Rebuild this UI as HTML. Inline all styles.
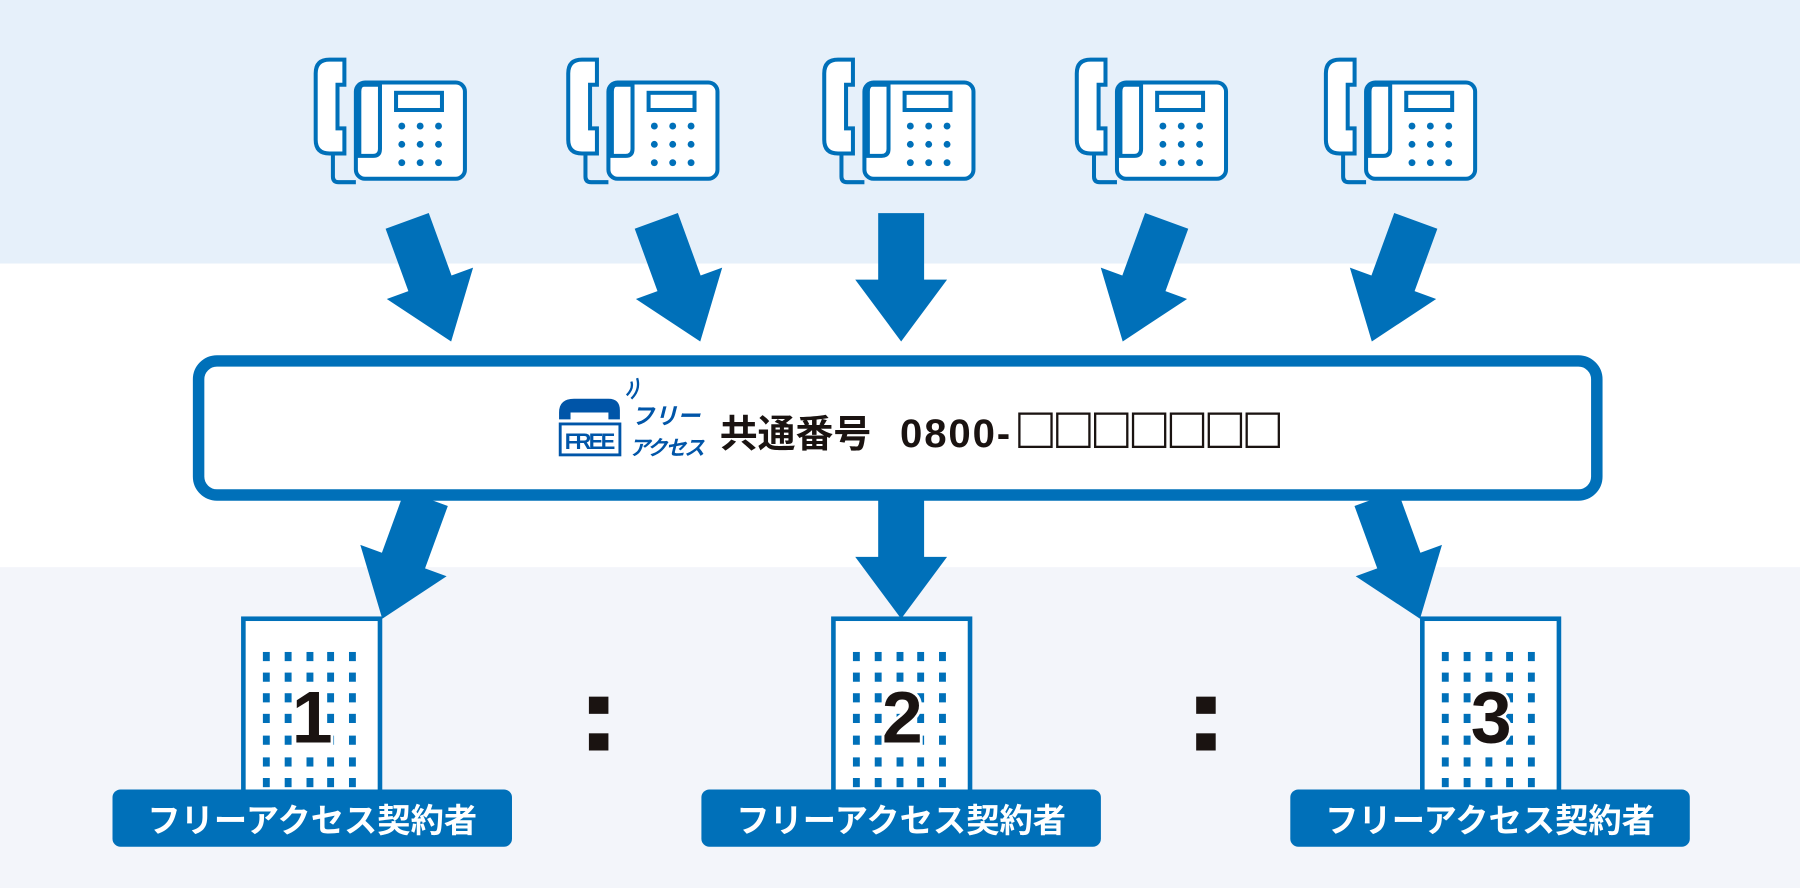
<!DOCTYPE html>
<html><head><meta charset="utf-8"><style>
html,body{margin:0;padding:0;width:1800px;height:888px;overflow:hidden;background:#fff}
svg{display:block}
text{font-family:"Liberation Sans","Noto Sans CJK JP",sans-serif;font-weight:bold}
</style></head><body>
<svg width="1800" height="888" viewBox="0 0 1568 775" preserveAspectRatio="none" xmlns="http://www.w3.org/2000/svg">
<defs>
<g id="ph">
  <path d="M12 0 H25 V22 H19 V60 H25 V82 H12 Q0 82 0 70 V12 Q0 0 12 0 Z" fill="#fff" stroke="#0070b9" stroke-width="3.5"/>
  <path d="M15 82 V102 Q15 107 20 107 H35" fill="none" stroke="#0070b9" stroke-width="3.5"/>
  <rect x="35" y="20" width="95" height="84" rx="8" fill="#fff" stroke="#0070b9" stroke-width="3.5"/>
  <path d="M42 22 Q38 22 38 28 V84 H50 Q56 84 56 78 V22 Z" fill="none" stroke="#0070b9" stroke-width="3.5"/>
  <rect x="70" y="29" width="40" height="15" fill="none" stroke="#0070b9" stroke-width="3.5"/>
  <g fill="#0070b9">
   <circle cx="75" cy="58" r="3"/><circle cx="91" cy="58" r="3"/><circle cx="107" cy="58" r="3"/>
   <circle cx="75" cy="74" r="3"/><circle cx="91" cy="74" r="3"/><circle cx="107" cy="74" r="3"/>
   <circle cx="75" cy="90" r="3"/><circle cx="91" cy="90" r="3"/><circle cx="107" cy="90" r="3"/>
  </g>
</g>
<path id="ar" d="M-20 -112 H20 V-54 H40 L0 0 L-40 -54 H-20 Z" fill="#0070b9"/>
<g id="row"><rect x="19" y="0" width="6" height="8"/><rect x="38" y="0" width="6" height="8"/><rect x="57" y="0" width="6" height="8"/><rect x="75" y="0" width="6" height="8"/><rect x="94" y="0" width="6" height="8"/></g>
</defs>
<rect x="0" y="0" width="1568" height="230" fill="#e6f0fa"/>
<rect x="0" y="495" width="1568" height="280" fill="#f3f5fa"/>

<use href="#ph" x="275" y="52"/>
<use href="#ph" x="495" y="52"/>
<use href="#ph" x="718" y="52"/>
<use href="#ph" x="938" y="52"/>
<use href="#ph" x="1155" y="52"/>

<use href="#ar" transform="translate(393,298) rotate(-20)"/>
<use href="#ar" transform="translate(610,298) rotate(-20)"/>
<use href="#ar" transform="translate(785,298)"/>
<use href="#ar" transform="translate(978,298) rotate(20)"/>
<use href="#ar" transform="translate(1195,298) rotate(20)"/>

<use href="#ar" transform="translate(333,540) rotate(20)"/>
<use href="#ar" transform="translate(785,540)"/>
<use href="#ar" transform="translate(1237,540) rotate(-20)"/>

<rect x="173" y="315" width="1218" height="117" rx="16" fill="#fff" stroke="#0070b9" stroke-width="10"/>

<path d="M487 360 Q487 348 500 348 H530 Q540 348 540 358 V366 H530 V360 H497 V366 H487 Z" fill="#0055a8"/>
<rect x="488" y="370" width="52" height="27" fill="none" stroke="#0055a8" stroke-width="2.5"/>
<text x="514" y="392" font-size="19" fill="#0055a8" text-anchor="middle" textLength="44">FREE</text>
<path d="M546 345 Q552 339 550 333 M550 348 Q558 340 555 330" fill="none" stroke="#0055a8" stroke-width="2"/>
<text x="550" y="370" font-size="20" fill="#0055a8" font-style="italic">フリー</text>
<text x="548" y="397" font-size="18" fill="#0055a8" font-style="italic" textLength="66">アクセス</text>
<text x="627" y="390" font-size="33" fill="#1a1311">共通番号</text>
<text x="784" y="390" font-size="35" fill="#1a1311" textLength="96">0800-</text>
<g fill="none" stroke="#1a1311" stroke-width="2">
 <rect x="888" y="361" width="28" height="29"/><rect x="921" y="361" width="28" height="29"/><rect x="954" y="361" width="28" height="29"/><rect x="987" y="361" width="28" height="29"/><rect x="1020" y="361" width="28" height="29"/><rect x="1053" y="361" width="28" height="29"/><rect x="1086" y="361" width="28" height="29"/>
</g>

<rect x="212" y="540" width="119" height="165" fill="#fff" stroke="#0070b9" stroke-width="4"/>
<rect x="726" y="540" width="119" height="165" fill="#fff" stroke="#0070b9" stroke-width="4"/>
<rect x="1239" y="540" width="119" height="165" fill="#fff" stroke="#0070b9" stroke-width="4"/>
<g fill="#0070b9">
<use href="#row" x="210" y="569"/><use href="#row" x="210" y="587"/><use href="#row" x="210" y="605"/><use href="#row" x="210" y="623"/><use href="#row" x="210" y="642"/><use href="#row" x="210" y="661"/><use href="#row" x="210" y="679"/>
<use href="#row" x="724" y="569"/><use href="#row" x="724" y="587"/><use href="#row" x="724" y="605"/><use href="#row" x="724" y="623"/><use href="#row" x="724" y="642"/><use href="#row" x="724" y="661"/><use href="#row" x="724" y="679"/>
<use href="#row" x="1237" y="569"/><use href="#row" x="1237" y="587"/><use href="#row" x="1237" y="605"/><use href="#row" x="1237" y="623"/><use href="#row" x="1237" y="642"/><use href="#row" x="1237" y="661"/><use href="#row" x="1237" y="679"/>
</g>
<g font-size="64" fill="#1a1311" stroke="#fff" stroke-width="5" paint-order="stroke" text-anchor="middle">
<text x="272" y="648">1</text><text x="786" y="648">2</text><text x="1299" y="648">3</text>
</g>
<g fill="#1a1311">
<rect x="513" y="608" width="17" height="15"/><rect x="513" y="640" width="17" height="15"/>
<rect x="1042" y="608" width="17" height="15"/><rect x="1042" y="640" width="17" height="15"/>
</g>

<g fill="#0070b9">
<rect x="98" y="689" width="348" height="50" rx="7"/>
<rect x="611" y="689" width="348" height="50" rx="7"/>
<rect x="1124" y="689" width="348" height="50" rx="7"/>
</g>
<g font-size="29" fill="#fff" text-anchor="middle">
<text x="272" y="726">フリーアクセス契約者</text>
<text x="785" y="726">フリーアクセス契約者</text>
<text x="1298" y="726">フリーアクセス契約者</text>
</g>
</svg>
</body></html>
